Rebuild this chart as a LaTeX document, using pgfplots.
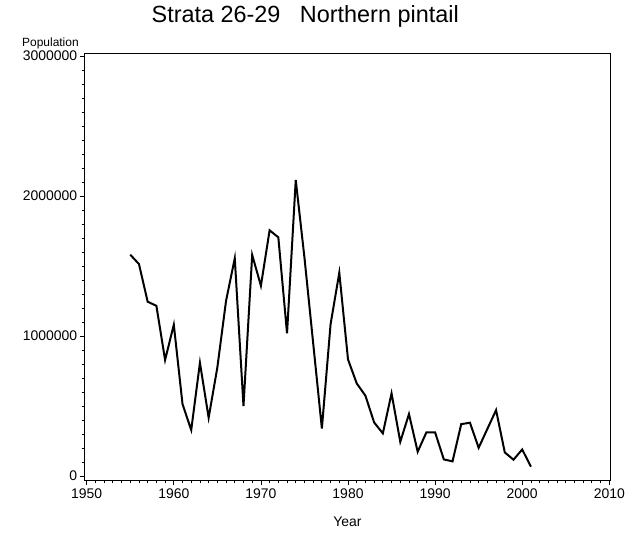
\documentclass[border=0pt]{standalone}
\usepackage{fontspec}
\setmainfont{Liberation Sans}
\usepackage{pgfplots}
\pgfplotsset{compat=1.18}
\begin{document}
\begin{tikzpicture}
\path[use as bounding box] (-84.7bp,-59bp) rectangle (552.3bp,480bp);
\begin{axis}[
  at={(0,0)}, anchor=south west,
  scale only axis, width=525.3bp, height=426bp,
  xmin=1949.77, xmax=2010.08, ymin=-28000, ymax=3014000,
  xtick={1950,1960,1970,1980,1990,2000,2010}, minor x tick num=9,
  ytick={0,1000000,2000000,3000000}, minor y tick num=9,
  tick align=outside, tick pos=left,
  major tick length=5bp, minor tick length=3bp,
  scaled y ticks=false, scaled x ticks=false,
  /pgf/number format/assume math mode=true,
  xticklabel style={/pgf/number format/fixed, /pgf/number format/1000 sep={}},
  yticklabel style={/pgf/number format/fixed, /pgf/number format/1000 sep={}, xshift=1bp},
  tick label style={font=\fontsize{14}{16}\selectfont},
  axis line style={line width=1bp},
  tick style={black, line width=0.8bp},
  xlabel={Year},
  xlabel style={at={(axis description cs:0.5,0)}, anchor=center, yshift=-42bp, font=\fontsize{14}{16}\selectfont},
]
\addplot[black, line width=2bp, mark=none] coordinates {
(1955,1581000) (1956,1514000) (1957,1245000) (1958,1216000) (1959,829000)
(1960,1081000) (1961,514000) (1962,329000) (1963,809000) (1964,417000)
(1965,776000) (1966,1252000) (1967,1555000) (1968,500000) (1969,1579000)
(1970,1359000) (1971,1755000) (1972,1705000) (1973,1019000) (1974,2114000)
(1975,1560000) (1976,950000) (1977,340000) (1978,1085000) (1979,1452000)
(1980,833000) (1981,662000) (1982,574000) (1983,383000) (1984,305000)
(1985,591000) (1986,245000) (1987,443000) (1988,174000) (1989,312000)
(1990,312000) (1991,119000) (1992,105000) (1993,371000) (1994,381000)
(1995,202000) (1996,337000) (1997,471000) (1998,169000) (1999,117000)
(2000,190000) (2001,67000)
};
\end{axis}
\node[font=\fontsize{23.5}{27}\selectfont] at (220.5bp,464bp) {Strata 26-29\ \ \ Northern pintail};
\node[font=\fontsize{12}{14}\selectfont, anchor=base west, inner sep=0pt] at (-62.7bp,433bp) {Population};
\end{tikzpicture}
\end{document}
